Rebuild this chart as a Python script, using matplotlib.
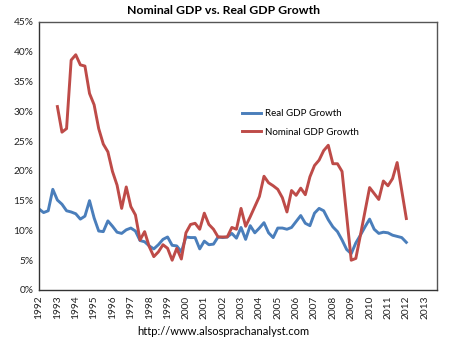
import numpy as np
import matplotlib.pyplot as plt

plt.rcParams['font.family'] = ['Lato', 'DejaVu Sans']

# quarterly y/y growth, % (1992Q1 .. 2012Q1)
real_gdp = [13.6, 13.0, 13.3, 16.9, 15.1, 14.4, 13.3, 13.1, 12.8, 11.9,
            12.4, 15.0, 12.1, 9.9, 9.8, 11.6, 10.7, 9.7, 9.5, 10.1,
            10.4, 9.9, 8.3, 8.1, 7.4, 6.9, 7.6, 8.5, 8.9, 7.5,
            7.4, 6.4, 8.9, 8.8, 8.8, 6.9, 8.2, 7.6, 7.7, 8.9,
            8.8, 8.9, 9.5, 8.7, 10.5, 8.5, 10.8, 9.6, 10.4, 11.3,
            9.6, 8.8, 10.4, 10.4, 10.2, 10.5, 11.5, 12.5, 11.2, 10.8,
            12.9, 13.7, 13.3, 11.8, 10.6, 9.8, 8.4, 6.8, 6.1, 7.9,
            9.2, 10.6, 11.9, 10.2, 9.5, 9.7, 9.6, 9.2, 9.0, 8.8,
            8.0]

# nominal series starts in 1993Q1
nominal_gdp = [np.nan] * 4 + [
            30.8, 26.5, 27.1, 38.6, 39.5, 37.8, 37.6, 33.0, 31.1, 27.1,
            24.5, 23.2, 19.9, 17.6, 13.7, 17.3, 14.0, 12.6, 8.4, 9.8,
            7.3, 5.6, 6.4, 7.6, 7.0, 5.0, 7.0, 5.2, 9.6, 11.0,
            11.2, 10.2, 12.9, 11.0, 10.2, 8.9, 8.9, 8.9, 10.5, 10.2,
            13.7, 10.7, 12.3, 14.0, 15.7, 19.1, 18.0, 17.5, 16.9, 15.5,
            13.1, 16.7, 15.9, 17.1, 16.0, 19.0, 20.9, 21.8, 23.4, 24.3,
            21.2, 21.2, 19.9, 12.5, 5.0, 5.3, 9.2, 13.2, 17.2, 16.2,
            15.2, 18.3, 17.5, 18.7, 21.4, 16.7, 12.0]

start_year = 1992
years = np.arange(1992, 2014)
x = start_year + np.arange(len(real_gdp)) / 4

fig = plt.figure(figsize=(4.5, 3.41), dpi=100)
ax = fig.add_axes([0.0867, 0.1496, 0.8844, 0.7859])

ax.plot(x, real_gdp, color='#4A7EBB', lw=2.1, label='Real GDP Growth')
ax.plot(x, nominal_gdp, color='#BE4B48', lw=2.1, label='Nominal GDP Growth')

ax.set_xlim(1992, 2013.67)
ax.set_ylim(0, 45)
ax.set_yticks(np.arange(0, 46, 5))
ax.set_yticklabels([f'{v}%' for v in range(0, 46, 5)], fontsize=7.3, color='#222222')
ax.set_xticks(years)
ax.set_xticklabels([str(y) for y in years], rotation=90, fontsize=7.3, color='#222222')
ax.tick_params(length=0, pad=4)

for s in ax.spines.values():
    s.set_color('#555555')
    s.set_linewidth(1)
ax.spines['left'].set_color('#333333')
ax.spines['bottom'].set_color('#333333')

ax.legend(loc='upper left', bbox_to_anchor=(0.5, 0.69), frameon=False,
          fontsize=7, handlelength=2.0, handletextpad=0.35, labelspacing=1.0,
          borderaxespad=0)

fig.text(0.497, 0.968, 'Nominal GDP vs. Real GDP Growth', ha='center', va='center',
         fontsize=8.8, fontweight='bold')
fig.text(0.497, 0.027, 'http://www.alsosprachanalyst.com', ha='center', va='center',
         fontsize=8)

fig.savefig('out.png', dpi=100)
